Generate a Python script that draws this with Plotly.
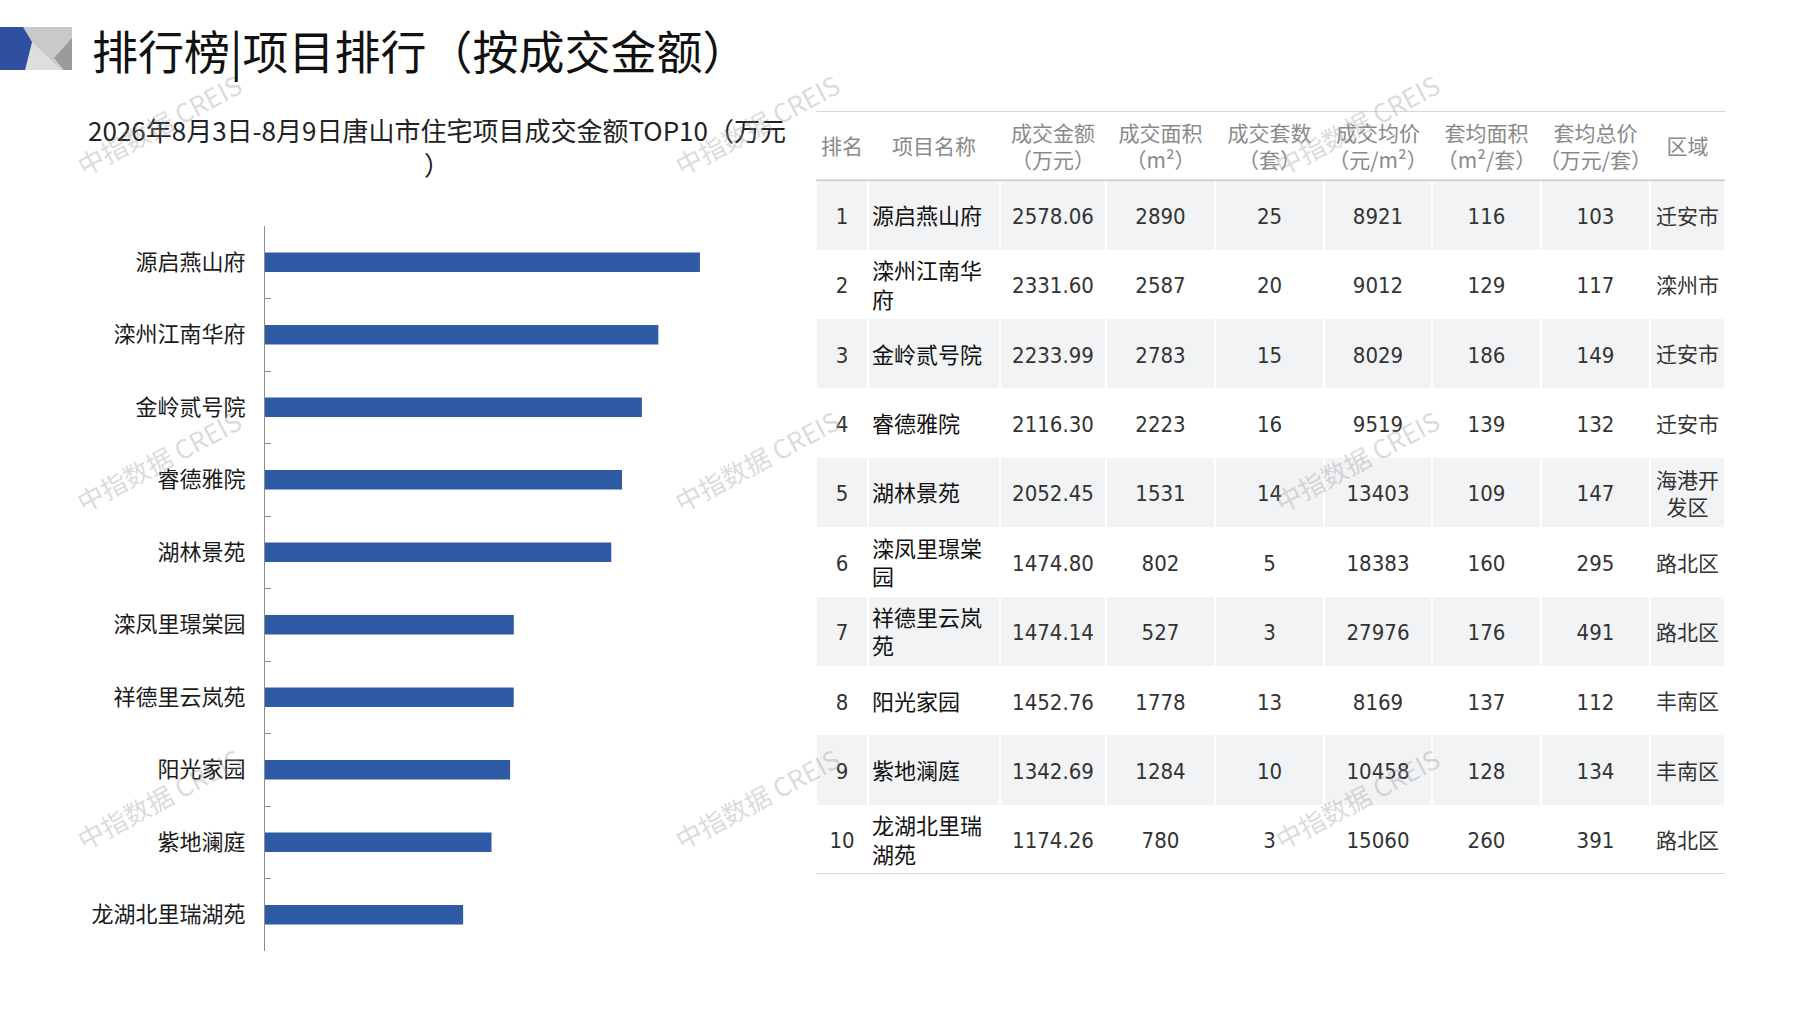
import plotly.graph_objects as go

W, H = 1797, 1010
CJK = "Noto Sans CJK SC"
NUM = "Liberation Sans Narrow, DejaVu Sans Condensed, Noto Sans CJK SC"

# ---- data ----
projects = ["源启燕山府", "滦州江南华府", "金岭贰号院", "睿德雅院", "湖林景苑",
            "滦凤里璟棠园", "祥德里云岚苑", "阳光家园", "紫地澜庭", "龙湖北里瑞湖苑"]
ranks = list(range(1, 11))
amount = [2578.06, 2331.60, 2233.99, 2116.30, 2052.45,
          1474.80, 1474.14, 1452.76, 1342.69, 1174.26]
area = [2890, 2587, 2783, 2223, 1531, 802, 527, 1778, 1284, 780]
units = [25, 20, 15, 16, 14, 5, 3, 13, 10, 3]
avg_price = [8921, 9012, 8029, 9519, 13403, 18383, 27976, 8169, 10458, 15060]
avg_area = [116, 129, 186, 139, 109, 160, 176, 137, 128, 260]
avg_total = [103, 117, 149, 132, 147, 295, 491, 112, 134, 391]
districts = ["迁安市", "滦州市", "迁安市", "迁安市", "海港开发区",
             "路北区", "路北区", "丰南区", "丰南区", "路北区"]
headers = ["排名", "项目名称", "成交金额<br>（万元）", "成交面积<br>（m²）",
           "成交套数<br>（套）", "成交均价<br>（元/m²）", "套均面积<br>（m²/套）",
           "套均总价<br>（万元/套）", "区域"]

title = "排行榜|项目排行（按成交金额）"
subtitle = "2026年8月3日-8月9日唐山市住宅项目成交金额TOP10（万元<br>）"

# table column widths in px
col_w = [52, 132, 106, 109, 109, 108, 109, 109, 75]
TXT_DY = 0.05  # nudge text down so CJK glyphs sit centred in the rows


def wrap(s, n):
    return "<br>".join(s[i:i + n] for i in range(0, len(s), n))


def px(x, y):
    return x / W, 1 - y / H


fig = go.Figure()

# ---- bar chart ----
fig.add_trace(go.Bar(
    x=amount, y=projects, orientation="h", width=0.27,
    marker=dict(color="#2F5BA6", line=dict(width=0)),
    xaxis="x", yaxis="y", hoverinfo="x+y",
))

# ---- table built on its own axes ----
edges = [0]
for w in col_w:
    edges.append(edges[-1] + w)
centers = [(edges[i] + edges[i + 1]) / 2 for i in range(len(col_w))]
n_rows = len(projects) + 1
z = [[0] * len(col_w)] + [[1 if r % 2 == 1 else 0] * len(col_w) for r in range(1, n_rows)]

fig.add_trace(go.Heatmap(
    x=edges, y=[r - 0.5 for r in range(n_rows + 1)], z=z,
    colorscale=[[0, "#FFFFFF"], [1, "#F2F3F5"]], zmin=0, zmax=1,
    showscale=False, xgap=2, hoverinfo="skip", xaxis="x2", yaxis="y2",
))

fig.add_trace(go.Scatter(
    x=centers, y=[TXT_DY] * len(headers), text=headers, mode="text",
    textfont=dict(family=CJK, size=21, color="#8A8A8A"),
    xaxis="x2", yaxis="y2", hoverinfo="skip",
))

rows = [r + TXT_DY for r in range(1, n_rows)]
num_cols = [
    (0, [str(v) for v in ranks]),
    (2, [f"{v:.2f}" for v in amount]),
    (3, [str(v) for v in area]),
    (4, [str(v) for v in units]),
    (5, [str(v) for v in avg_price]),
    (6, [str(v) for v in avg_area]),
    (7, [str(v) for v in avg_total]),
]
for ci, vals in num_cols:
    fig.add_trace(go.Scatter(
        x=[centers[ci]] * len(vals), y=rows, text=vals, mode="text",
        textfont=dict(family=NUM, size=22, color="#333333"),
        xaxis="x2", yaxis="y2", hoverinfo="skip",
    ))

fig.add_trace(go.Scatter(
    x=[edges[1] + 4] * len(projects), y=rows, text=[wrap(p, 5) for p in projects],
    mode="text", textposition="middle right",
    textfont=dict(family=CJK, size=22, color="#111111"),
    xaxis="x2", yaxis="y2", hoverinfo="skip",
))
fig.add_trace(go.Scatter(
    x=[centers[8]] * len(districts), y=rows, text=[wrap(d, 3) for d in districts],
    mode="text", textfont=dict(family=CJK, size=21, color="#333333"),
    xaxis="x2", yaxis="y2", hoverinfo="skip",
))

shapes = []
for yline in (-0.5, 0.5, n_rows - 0.5):
    shapes.append(dict(type="line", xref="x2", yref="y2", x0=0, x1=edges[-1],
                       y0=yline, y1=yline, line=dict(color="#C9C9C9", width=1.5)))


# ---- logo ----
def path(pts):
    return "M " + " L ".join(f"{px(x, y)[0]},{px(x, y)[1]}" for x, y in pts) + " Z"


def poly(pts, color):
    return dict(type="path", xref="paper", yref="paper", line=dict(width=0),
                fillcolor=color, path=path(pts))


shapes += [
    poly([(20, 27), (72, 27), (72, 70), (20, 70)], "#C9C9C9"),
    poly([(32, 42), (62, 70), (25, 70)], "#DEDEDE"),
    poly([(54, 58), (72, 38), (72, 70), (64, 70)], "#9B9B9B"),
    poly([(0, 27), (23, 27), (32, 42), (25, 70), (0, 70)], "#2F4FA0"),
]

annotations = [
    dict(text=title, x=px(90, 0)[0], y=px(0, 49)[1], xref="paper", yref="paper",
         xanchor="left", yanchor="middle", showarrow=False,
         font=dict(family=CJK, size=46, color="#111111")),
    dict(text=subtitle, x=px(437, 0)[0], y=px(0, 146)[1], xref="paper", yref="paper",
         xanchor="center", yanchor="middle", showarrow=False, align="center",
         font=dict(family=CJK, size=26, color="#222222")),
]

# watermarks
for wx in (158, 756, 1356):
    for wy in (124, 461, 798):
        annotations.append(dict(
            text="中指数据 CREIS", x=px(wx, 0)[0], y=px(0, wy)[1],
            xref="paper", yref="paper", xanchor="center", yanchor="middle",
            showarrow=False, textangle=-28,
            font=dict(family=CJK, size=26, color="rgba(150,150,150,0.35)"),
        ))

fig.update_layout(
    width=W, height=H, margin=dict(l=0, r=0, t=0, b=0),
    paper_bgcolor="white", plot_bgcolor="rgba(0,0,0,0)",
    showlegend=False, shapes=shapes, annotations=annotations,
    xaxis=dict(domain=[265 / W, 788 / W], range=[0, 3100], visible=False),
    yaxis=dict(domain=[1 - 951 / H, 1 - 226 / H], autorange="reversed",
               showline=True, linecolor="#8C8C8C", linewidth=1,
               ticks="inside", tickson="boundaries", ticklen=6, tickcolor="#8C8C8C",
               ticklabelstandoff=14, showgrid=False,
               tickfont=dict(family=CJK, size=22, color="#1A1A1A")),
    xaxis2=dict(domain=[816 / W, 1725 / W], range=[0, edges[-1]], visible=False),
    yaxis2=dict(domain=[1 - 874 / H, 1 - 111 / H], range=[n_rows - 0.5, -0.5],
                visible=False),
)

fig.write_html("out.html", config={"displayModeBar": False},
               post_script="document.body.style.margin='0px';")
